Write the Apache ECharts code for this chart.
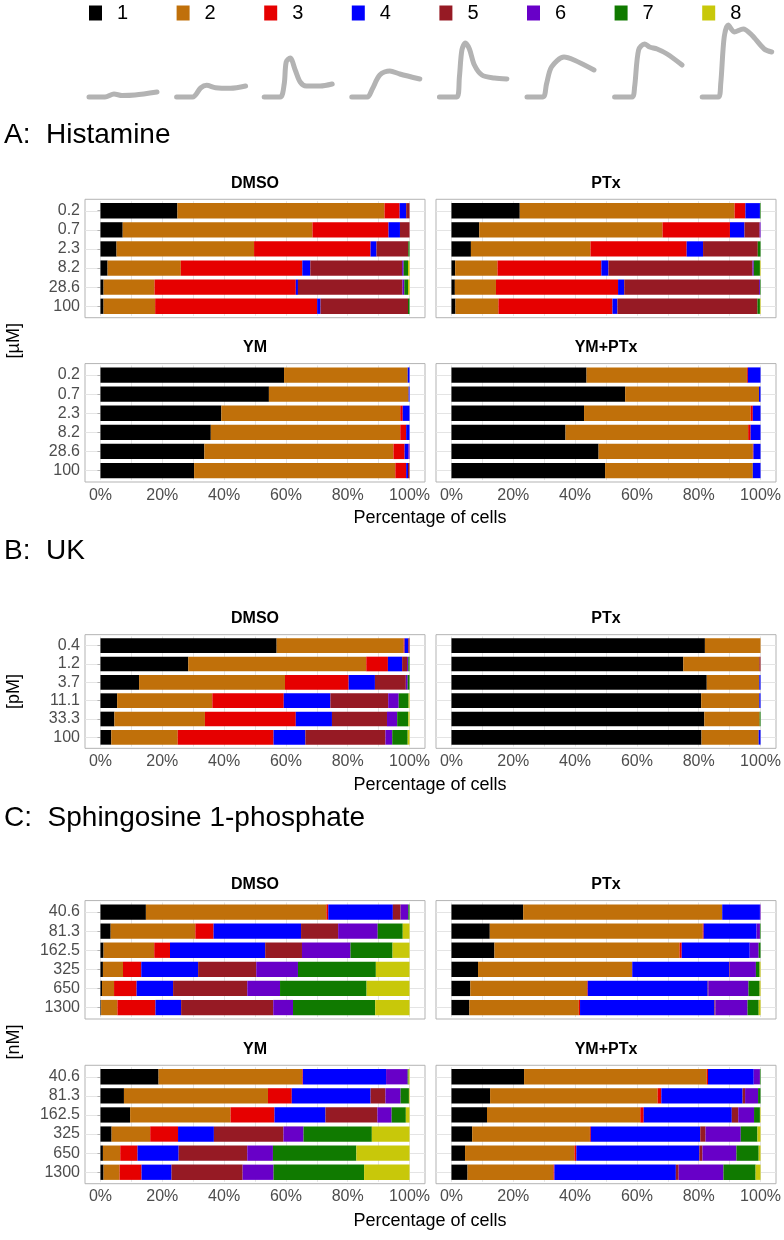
<!DOCTYPE html>
<html><head><meta charset="utf-8">
<script src="https://cdn.jsdelivr.net/npm/echarts@6/dist/echarts.min.js"></script>
<style>html,body{margin:0;padding:0;background:#fff}#c{width:784px;height:1240px}</style>
</head><body><div id="c"></div>
<script>
// ---------- DATA ----------
const classes = ['1','2','3','4','5','6','7','8'];
const classColors = ['#000000','#C0700A','#E60000','#0000FF','#961A24','#6800C8','#107A00','#C8C80A'];
const histConc = ['0.2','0.7','2.3','8.2','28.6','100'];
const ukConc = ['0.4','1.2','3.7','11.1','33.3','100'];
const s1pConc = ['40.6','81.3','162.5','325','650','1300'];
const xLabelTicks = [0,20,40,60,80,100];
const xGridTicks = [0,10,20,30,40,50,60,70,80,90,100];

// rows = concentrations, columns = response classes 1..8 (percent of cells)
const histDMSO = [
  [24.9,67.0,4.9,2.1,1.1,0,0,0],
  [7.2,61.4,24.6,3.7,3.1,0,0,0],
  [5.2,44.5,37.7,1.9,10.3,0,0.4,0],
  [2.3,23.7,39.3,2.6,29.7,0.5,1.4,0.5],
  [1.0,16.5,45.7,0.7,33.8,0.6,1.2,0.5],
  [1.0,16.7,52.4,1.1,28.3,0,0.5,0]
];
const histPTx = [
  [22.1,69.5,3.5,4.7,0,0,0.2,0],
  [9.0,59.3,21.8,4.7,4.9,0.3,0,0],
  [6.3,38.7,31.1,5.3,17.7,0,0.9,0],
  [1.2,13.7,33.6,2.3,46.6,0.4,2.0,0.2],
  [1.1,13.3,39.5,2.0,43.6,0.3,0.2,0],
  [1.3,13.9,36.9,1.6,45.3,0,0.8,0.2]
];
const histYM = [
  [59.4,40.0,0,0.6,0,0,0,0],
  [54.5,45.2,0,0.3,0,0,0,0],
  [39.1,57.9,0.8,2.2,0,0,0,0],
  [35.7,61.3,1.9,1.1,0,0,0,0],
  [33.6,61.2,3.6,1.2,0,0.4,0,0],
  [30.3,65.1,3.5,0.6,0.5,0,0,0]
];
const histYMPTx = [
  [43.7,51.9,0.3,4.1,0,0,0,0],
  [56.2,43.3,0,0.5,0,0,0,0],
  [42.9,53.9,0.7,2.5,0,0,0,0],
  [36.9,59.1,0.8,3.2,0,0,0,0],
  [47.6,49.9,0.2,2.3,0,0,0,0],
  [49.7,47.8,0,2.5,0,0,0,0]
];
const ukDMSO = [
  [57.0,41.1,0.3,1.2,0.4,0,0,0],
  [28.4,57.6,7.0,4.6,1.6,0.4,0.4,0],
  [12.5,47.2,20.6,8.5,10.0,0.6,0.6,0],
  [5.4,30.8,23.1,15.1,18.7,3.4,3.2,0.3],
  [4.5,29.3,29.4,11.7,17.8,3.3,3.6,0.4],
  [3.5,21.5,31.0,10.3,25.9,2.2,5.0,0.6]
];
const ukPTx = [
  [82.0,18.0,0,0,0,0,0,0],
  [75.0,24.6,0,0,0.4,0,0,0],
  [82.6,17.0,0,0.4,0,0,0,0],
  [80.8,18.8,0,0.4,0,0,0,0],
  [81.8,17.9,0,0,0,0,0.3,0],
  [80.9,18.5,0,0.6,0,0,0,0]
];
const s1pDMSO = [
  [14.7,58.4,0.6,20.9,2.5,2.5,0.4,0],
  [3.3,27.4,5.9,28.3,12.0,12.8,8.1,2.2],
  [1.0,16.4,5.1,30.8,11.9,15.7,13.6,5.5],
  [0.8,6.5,5.9,18.4,18.8,13.5,25.2,10.9],
  [0.5,3.9,7.3,11.8,24.0,10.6,28.0,13.9],
  [0.2,5.3,12.3,8.3,29.8,6.4,26.6,11.1]
];
const s1pPTx = [
  [23.2,64.4,0,12.2,0,0.2,0,0],
  [12.4,68.9,0.3,17.1,0,1.1,0.2,0],
  [13.9,59.9,0.7,22.0,0,2.9,0.6,0],
  [8.6,49.8,0.1,31.3,0.2,8.5,1.2,0.3],
  [6.1,37.8,0.2,38.8,0.2,13.0,3.6,0.3],
  [5.8,35.4,0.4,43.5,0.3,10.4,3.6,0.6]
];
const s1pYM = [
  [18.8,46.5,0.2,26.9,0,7.0,0.3,0.3],
  [7.6,46.6,7.7,25.5,4.8,4.9,2.7,0.2],
  [9.6,32.5,14.2,16.5,16.8,4.6,4.6,1.2],
  [3.6,12.5,9.0,11.6,22.5,6.5,22.1,12.2],
  [0.8,5.6,5.6,13.3,22.2,8.3,27.0,17.2],
  [1.0,5.2,7.1,9.7,23.0,10.0,29.3,14.7]
];
const s1pYMPTx = [
  [23.5,59.1,0.4,14.8,0,2.0,0.2,0],
  [12.5,54.2,1.2,26.3,0.8,4.2,0.8,0],
  [11.5,49.6,1.1,28.5,2.1,5.1,1.9,0.2],
  [6.7,38.1,0.3,35.4,1.7,11.4,5.4,1.0],
  [4.4,35.4,0.6,39.8,1.0,11.0,7.2,0.6],
  [5.2,27.8,0.3,39.3,0.9,14.5,10.4,1.6]
];
// example calcium traces for each class (time, amplitude)
const trace1 = [[0,0],[16,0],[25,3],[33,1.5],[46,2],[68,5]];
const trace2 = [[0,0],[16,0],[24,9],[30,11.7],[39,9.3],[54,8.7],[69,11]];
const trace3 = [[0,0],[16,0],[20,13],[22,35],[26,39],[31,27],[36,15],[42,11],[56,11],[68,13]];
const trace4 = [[0,0],[15.5,0],[20.5,8],[28,22],[38,26],[48,23],[68,18]];
const trace5 = [[0,0],[17.5,0],[20,20],[22.5,47],[26,54],[30,48],[35,32],[42.5,22],[55,19],[67.5,18]];
const trace6 = [[0,0],[16,0],[19.5,13],[24.5,30],[37,40],[47,37],[67,27]];
const trace7 = [[0,0],[17.5,0],[20,10],[24,47],[30,53],[35,50],[42.5,48],[52.5,43],[67.5,32]];
const trace8 = [[0,0],[16,0],[18.5,13],[22,60],[26,72],[32,65],[41,68],[49.5,62],[62,48],[69.5,45]];
const traces = [trace1,trace2,trace3,trace4,trace5,trace6,trace7,trace8];

// ---------- LAYOUT ----------
const FONT = '"Liberation Sans", Arial, Helvetica, sans-serif';
const colLeft = [85, 436];
const colW = 340;
const panels = [
  {title:'DMSO', rows:histDMSO, cats:histConc, col:0, top:201.2, h:114.6, xlab:false},
  {title:'PTx', rows:histPTx, cats:histConc, col:1, top:201.2, h:114.6, xlab:false},
  {title:'YM', rows:histYM, cats:histConc, col:0, top:365.5, h:114.6, xlab:true},
  {title:'YM+PTx', rows:histYMPTx, cats:histConc, col:1, top:365.5, h:114.6, xlab:true},
  {title:'DMSO', rows:ukDMSO, cats:ukConc, col:0, top:636.5, h:110, xlab:true},
  {title:'PTx', rows:ukPTx, cats:ukConc, col:1, top:636.5, h:110, xlab:true},
  {title:'DMSO', rows:s1pDMSO, cats:s1pConc, col:0, top:902.5, h:114.6, xlab:false},
  {title:'PTx', rows:s1pPTx, cats:s1pConc, col:1, top:902.5, h:114.6, xlab:false},
  {title:'YM', rows:s1pYM, cats:s1pConc, col:0, top:1067.2, h:114.6, xlab:true},
  {title:'YM+PTx', rows:s1pYMPTx, cats:s1pConc, col:1, top:1067.2, h:114.6, xlab:true}
];

const grid = [], xAxis = [], yAxis = [], series = [], graphic = [];
const axisTextColor = '#4d4d4d';

panels.forEach((p, i) => {
  const band = p.h / 6;
  const left = colLeft[p.col];
  // border grid (ggplot panel with 0.6 band expansion)
  const bTop = p.top - 0.1 * band, bH = p.h + 0.2 * band;
  grid.push({left: left, top: bTop, width: colW, height: bH, show: true,
    borderColor: '#b3b3b3', borderWidth: 1, backgroundColor: 'transparent', containLabel: false});
  const bgIdx = grid.length - 1;
  xAxis.push({gridIndex: bgIdx, type: 'value', show: false, min: 0, max: 1});
  yAxis.push({gridIndex: bgIdx, type: 'value', show: false, min: 0, max: 1});
  // data grid
  grid.push({left: left, top: p.top, width: colW, height: p.h, show: false, containLabel: false});
  const gIdx = grid.length - 1;
  xAxis.push({gridIndex: gIdx, type: 'value', min: -5, max: 105,
    axisLine: {show: false},
    axisTick: {show: false, customValues: xGridTicks},
    axisLabel: {show: p.xlab, customValues: xLabelTicks, formatter: '{value}%', margin: 7,
      fontSize: 16, color: axisTextColor, fontFamily: FONT},
    splitLine: {show: true, lineStyle: {color: '#e4e4e4', width: 1}}
  });
  yAxis.push({gridIndex: gIdx, type: 'category', data: p.cats, inverse: true,
    axisLine: {show: false},
    axisTick: {show: p.col === 0, alignWithLabel: true, interval: 0, length: 3, lineStyle: {color: '#b3b3b3'}},
    axisLabel: {show: p.col === 0, interval: 0, margin: 5, fontSize: 16, color: axisTextColor, fontFamily: FONT},
    splitLine: {show: true, interval: 0, alignWithLabel: true, lineStyle: {color: '#e4e4e4', width: 1}}
  });
  const axIdx = xAxis.length - 1;
  classes.forEach((c, k) => {
    series.push({type: 'bar', name: c, xAxisIndex: axIdx, yAxisIndex: axIdx, stack: 'p' + i,
      data: p.rows.map(r => r[k]), barCategoryGap: '20%',
      itemStyle: {color: classColors[k]}, emphasis: {disabled: true}, silent: true});
  });
  // strip title
  graphic.push({type: 'text', x: left + colW / 2, y: bTop - 16,
    style: {text: p.title, font: 'bold 16px ' + FONT, fill: '#000', textAlign: 'center', textVerticalAlign: 'middle'}});
});

// sparkline traces under legend keys
const legendX0 = 89, legendStep = 87.6;
traces.forEach((t, k) => {
  grid.push({left: legendX0 + legendStep * k, top: 25, width: 70, height: 72, show: false});
  const gi = grid.length - 1;
  xAxis.push({gridIndex: gi, type: 'value', min: 0, max: 70, show: false});
  yAxis.push({gridIndex: gi, type: 'value', min: 0, max: 72, show: false});
  series.push({type: 'line', name: 'trace' + (k + 1), xAxisIndex: xAxis.length - 1, yAxisIndex: yAxis.length - 1,
    data: t, showSymbol: false, smooth: 0.3, clip: false, silent: true,
    lineStyle: {color: '#b3b3b3', width: 5, cap: 'round', join: 'round'}});
});

const legend = classes.map((c, k) => ({
  data: [c], left: legendX0 + legendStep * k, top: 3, icon: 'rect', itemWidth: 13, itemHeight: 15,
  selectedMode: false, padding: 0,
  textStyle: {fontSize: 20, color: '#000', fontFamily: FONT, padding: [0, 0, 0, 10]}
}));

// Section titles, axis titles
const txt = (text, x, y, size) => ({type: 'text', x: x, y: y,
  style: {text: text, font: size + 'px ' + FONT, fill: '#000', textAlign: 'left', textVerticalAlign: 'middle'}});
graphic.push(txt('A:  Histamine', 4, 135, 28));
graphic.push(txt('B:  UK', 4, 551, 28));
graphic.push(txt('C:  Sphingosine 1-phosphate', 4, 818, 28));
[518, 785, 1221].forEach(y => {
  graphic.push({type: 'text', x: 430, y: y, style: {text: 'Percentage of cells', font: '18px ' + FONT,
    fill: '#000', textAlign: 'center', textVerticalAlign: 'middle'}});
});
[['[µM]', 340.7], ['[pM]', 691.5], ['[nM]', 1042]].forEach(([t, y]) => {
  graphic.push({type: 'text', x: 14, y: y, rotation: Math.PI / 2,
    style: {text: t, font: '18px ' + FONT, fill: '#000', textAlign: 'center', textVerticalAlign: 'middle'}});
});

const chart = echarts.init(document.getElementById('c'), null, {renderer: 'canvas'});
chart.setOption({
  animation: false,
  backgroundColor: '#ffffff',
  legend: legend,
  grid: grid, xAxis: xAxis, yAxis: yAxis, series: series, graphic: graphic
});
</script></body></html>
